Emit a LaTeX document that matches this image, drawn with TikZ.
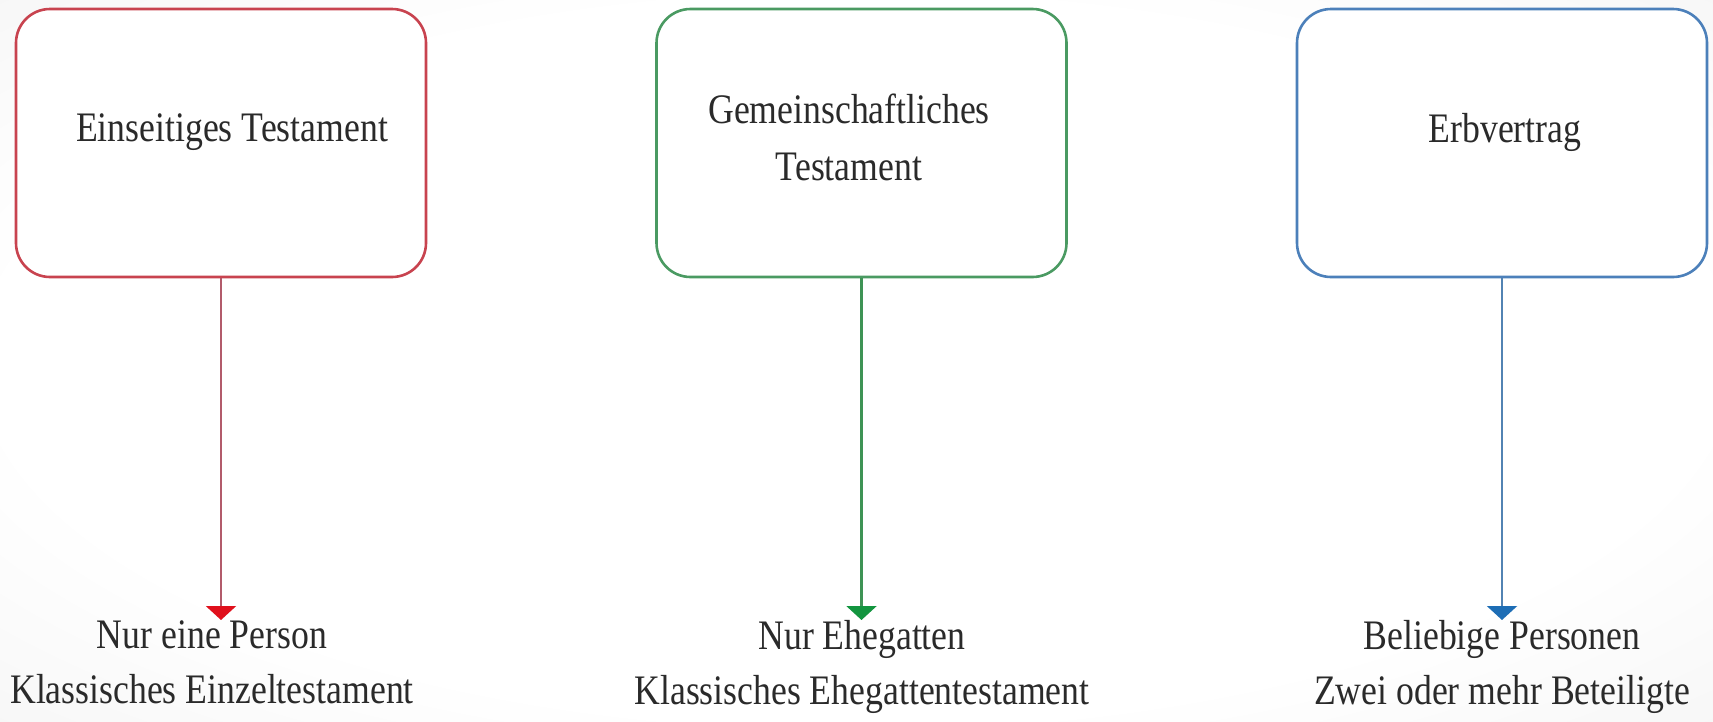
\documentclass[tikz,border=0pt]{standalone}
\usepackage{fontspec}
\setmainfont{Liberation Serif}[FakeStretch=0.85]
\usetikzlibrary{arrows.meta}
\definecolor{redbox}{HTML}{C8434F}
\definecolor{redline}{HTML}{B25B6B}
\definecolor{redhead}{HTML}{E0101C}
\definecolor{greenbox}{HTML}{4A9A62}
\definecolor{greenline}{HTML}{3E9355}
\definecolor{greenhead}{HTML}{13953F}
\definecolor{bluebox}{HTML}{4C80BA}
\definecolor{blueline}{HTML}{5283B3}
\definecolor{bluehead}{HTML}{1D6DB5}
\definecolor{txt}{HTML}{2A2A2A}
\pgfdeclareradialshading{vignette}{\pgfpoint{0bp}{0bp}}{color(0bp)=(white); color(25bp)=(white); color(70bp)=(black!13)}
\tikzset{
  box/.style={draw=#1, line width=2.6pt, rounded corners=34pt, fill=white,
    minimum width=410pt, minimum height=268pt},
  boxtext/.style={font=\fontsize{42}{57}\selectfont, text=txt, align=center, inner sep=0pt},
  bottomtext/.style={font=\fontsize{42}{55}\selectfont, text=txt, align=center, inner sep=0pt, anchor=north},
  conn/.style={draw=#1, line width=2.4pt},
}
\begin{document}
\begin{tikzpicture}[x=1pt,y=-1pt]
\useasboundingbox (0,0) rectangle (1713,721);
\shade[shading=vignette] (0,0) rectangle (1713,721);

\node[box=redbox] (b1) at (221,143) {};
\node[box=greenbox] (b2) at (861.5,143) {};
\node[box=bluebox] (b3) at (1502,143) {};

\node[boxtext] (l1) at (232,132) {Einseitiges Testament};
\node[boxtext] (l2) at (849,137) {Gemeinschaftliches\\Testament};
\node[boxtext] (l3) at (1505,132) {Erbvertrag};

\node[bottomtext] (t1) at (212,620) {Nur eine Person\\Klassisches Einzeltestament};
\node[bottomtext] (t2) at (862,620) {Nur Ehegatten\\Klassisches Ehegattentestament};
\node[bottomtext] (t3) at (1502,620) {Beliebige Personen\\Zwei oder mehr Beteiligte};

\draw[conn=redline, -{Triangle[width=30pt,length=14pt,color=redhead]}] (b1.south) -- (b1.south |- t1.north);
\draw[conn=greenline, -{Triangle[width=30pt,length=14pt,color=greenhead]}] (b2.south) -- (b2.south |- t2.north);
\draw[conn=blueline, -{Triangle[width=30pt,length=14pt,color=bluehead]}] (b3.south) -- (b3.south |- t3.north);
\end{tikzpicture}
\end{document}
